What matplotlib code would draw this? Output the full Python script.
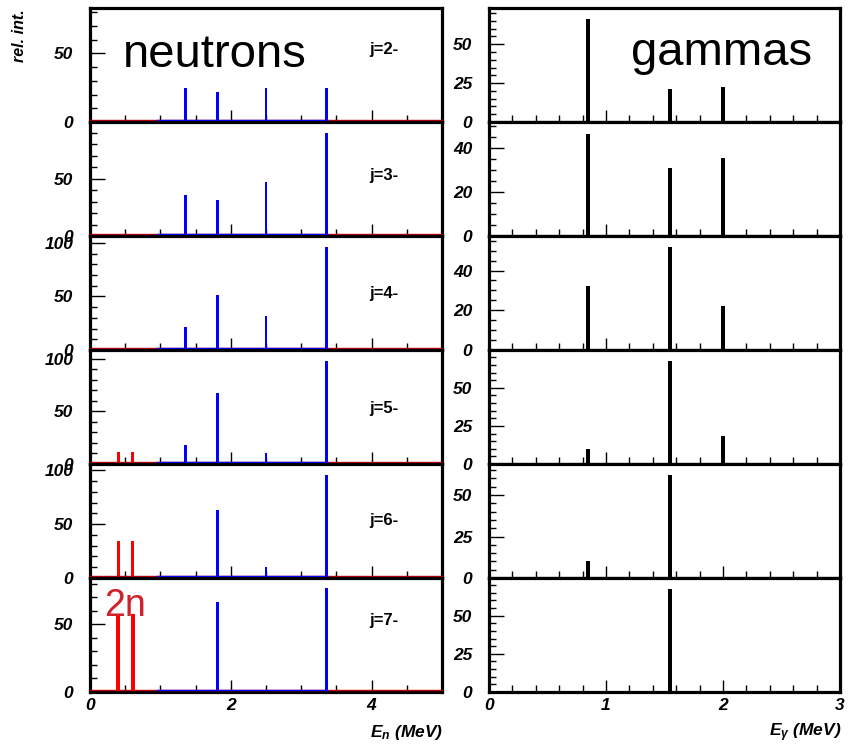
import matplotlib
matplotlib.use('Agg')
import matplotlib.pyplot as plt
import matplotlib.transforms as mtransforms
from matplotlib.ticker import MultipleLocator

plt.rcParams['font.family'] = ['Liberation Sans', 'DejaVu Sans']
plt.rcParams['mathtext.fontset'] = 'custom'
plt.rcParams['mathtext.it'] = 'Liberation Sans:bold:italic'
plt.rcParams['mathtext.rm'] = 'Liberation Sans:bold:italic'
plt.rcParams['mathtext.bf'] = 'Liberation Sans:bold:italic'

# ---------------- data ----------------
spin_labels = ['j=2-', 'j=3-', 'j=4-', 'j=5-', 'j=6-', 'j=7-']

# single-neutron lines (blue)
n_energy = [1.36, 1.81, 2.50, 3.36]
n_j2 = [25.1, 21.5, 25.1, 25.1]
n_j3 = [36.2, 31.5, 47.6, 90.2]
n_j4 = [21.8, 51.6, 31.7, 96.3]
n_j5 = [18.5, 67.9, 10.5, 97.8]
n_j6 = [0.0, 63.1, 10.3, 96.0]
n_j7 = [1.0, 66.3, 0.0, 76.7]

# two-neutron lines (red)
n2_energy = [0.40, 0.605]
n2_j2 = [0.0, 0.0]
n2_j3 = [0.0, 0.0]
n2_j4 = [0.5, 0.5]
n2_j5 = [11.0, 11.0]
n2_j6 = [34.0, 34.0]
n2_j7 = [58.0, 58.0]

# gamma lines (black)
g_energy = [0.85, 1.55, 2.00]
g_j2 = [66.3, 21.5, 22.2]
g_j3 = [46.5, 30.8, 35.3]
g_j4 = [32.3, 51.8, 22.2]
g_j5 = [9.9, 67.9, 18.1]
g_j6 = [10.1, 61.8, 0.5]
g_j7 = [0.0, 67.4, 0.5]

n_ymax = [83.0, 99.6, 106.5, 108.3, 106.0, 84.3]
g_ymax = [73.3, 51.8, 57.4, 74.8, 68.7, 74.7]
g_major = [25, 20, 20, 25, 25, 25]

n_sets = [n_j2, n_j3, n_j4, n_j5, n_j6, n_j7]
n2_sets = [n2_j2, n2_j3, n2_j4, n2_j5, n2_j6, n2_j7]
g_sets = [g_j2, g_j3, g_j4, g_j5, g_j6, g_j7]

# ---------------- layout ----------------
W, H = 848, 744
fig = plt.figure(figsize=(W / 100, H / 100), dpi=100)
fig.patch.set_facecolor('white')

top0 = 8.0
row_h = 114.0
lx0, lw = 90.0, 352.0
rx0, rw = 489.0, 351.0

tickprops = matplotlib.font_manager.FontProperties(
    family='Liberation Sans', weight='bold', style='italic', size=12.5)


def style_axes(ax, ymax, ymajor, yminor, xmax, xmajor, xminor, show_x):
    ax.set_ylim(0, ymax)
    ax.set_xlim(0, xmax)
    for s in ax.spines.values():
        s.set_linewidth(2.3)
        s.set_color('black')
        s.set_zorder(5)
    ax.yaxis.set_major_locator(MultipleLocator(ymajor))
    ax.yaxis.set_minor_locator(MultipleLocator(yminor))
    ax.xaxis.set_major_locator(MultipleLocator(xmajor))
    ax.xaxis.set_minor_locator(MultipleLocator(xminor))
    ax.tick_params(axis='y', which='major', direction='in', length=11, width=1.0,
                   pad=12, left=True, right=False)
    ax.tick_params(axis='y', which='minor', direction='in', length=5, width=1.0,
                   left=True, right=False)
    ax.tick_params(axis='x', which='major', direction='in', length=9, width=1.0,
                   pad=4, bottom=True, top=False)
    ax.tick_params(axis='x', which='minor', direction='in', length=5, width=1.0,
                   bottom=True, top=False)
    for lab in ax.get_yticklabels():
        lab.set_fontproperties(tickprops)
    if show_x:
        for lab in ax.get_xticklabels():
            lab.set_fontproperties(tickprops)
    else:
        ax.set_xticklabels([])


for i in range(6):
    ytop = top0 + i * row_h
    bottom = H - (ytop + row_h)
    show_x = (i == 5)

    # ---- neutrons ----
    axl = fig.add_axes([lx0 / W, bottom / H, lw / W, row_h / H])
    axl.set_facecolor('white')
    off = mtransforms.offset_copy(axl.transData, fig=fig, x=0, y=2.1, units='dots')
    axl.plot([0, 5], [0, 0], color='#c00000', lw=1.0, transform=off, zorder=6,
             clip_on=False)
    axl.plot([0.95, 3.37], [0, 0], color='blue', lw=1.0, transform=off, zorder=6,
             clip_on=False)
    axl.bar(n2_energy, n2_sets[i], width=0.055 if i == 5 else 0.042,
            color='#ff0000', linewidth=0, zorder=3)
    axl.bar(n_energy, n_sets[i], width=0.038, color='#0000ff', linewidth=0, zorder=3)
    style_axes(axl, n_ymax[i], 50, 10, 5, 2, 0.5, show_x)
    axl.text(3.97, 53, spin_labels[i], fontsize=12, fontweight='bold',
             ha='left', va='center', zorder=7)

    # ---- gammas ----
    axr = fig.add_axes([rx0 / W, bottom / H, rw / W, row_h / H])
    axr.set_facecolor('white')
    axr.bar(g_energy, g_sets[i], width=0.034, color='black', linewidth=0, zorder=3)
    style_axes(axr, g_ymax[i], g_major[i], 5, 3, 1, 0.2, show_x)

    if i == 0:
        axl.text(0.094, 0.48, 'neutrons', transform=axl.transAxes, fontsize=34,
                 ha='left', va='baseline', zorder=7)
        axr.text(0.405, 0.50, 'gammas', transform=axr.transAxes, fontsize=34,
                 ha='left', va='baseline', zorder=7)
    if i == 5:
        axl.text(0.2, 56, '2n', fontsize=27, color='#d0202a', ha='left',
                 va='baseline', zorder=7)

fig.text(19 / W, 1 - 9 / H, 'rel. int.', rotation=90, ha='center', va='top',
         fontsize=11.5, fontweight='bold', fontstyle='italic')
fig.text(443 / W, 1 - 733 / H, r'$E_{n}$ (MeV)', ha='right', va='center',
         fontsize=12.5, fontweight='bold', fontstyle='italic')
fig.text(841 / W, 1 - 733 / H, r'$E_{\gamma}$ (MeV)', ha='right', va='center',
         fontsize=12.5, fontweight='bold', fontstyle='italic')

fig.savefig('out.png', dpi=100, facecolor='white')
